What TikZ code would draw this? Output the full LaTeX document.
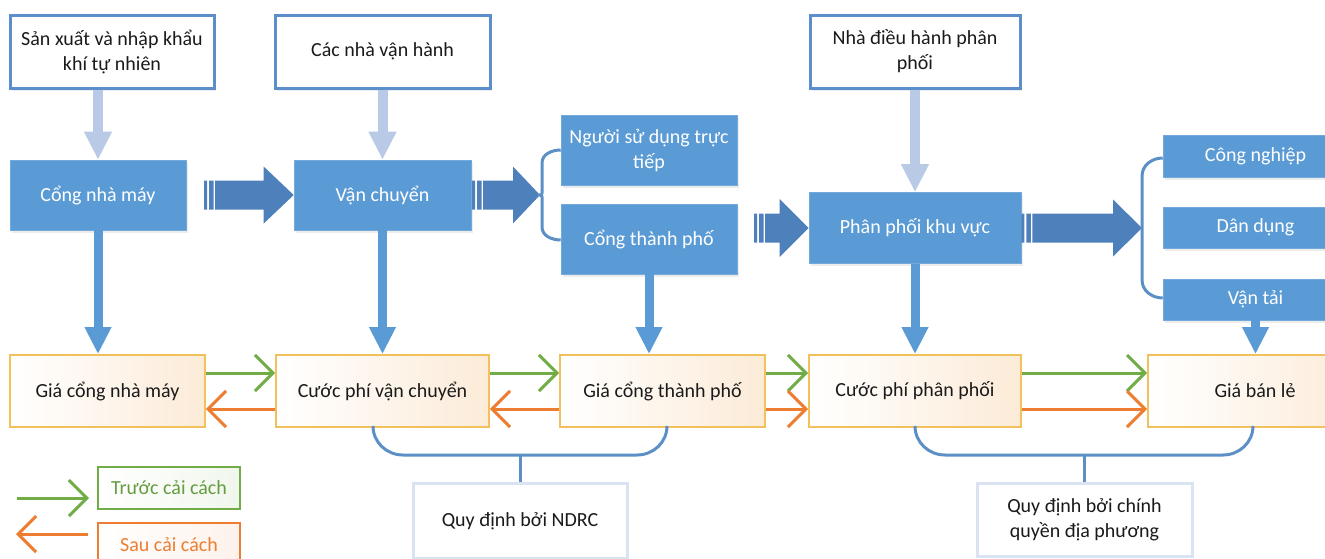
\documentclass[tikz,border=0pt]{standalone}
\usepackage{fontspec}
\setmainfont{Carlito}
\usetikzlibrary{arrows.meta,shadows,calc}
\definecolor{bxblue}{HTML}{5B9BD5}
\definecolor{topblue}{HTML}{5B8FCB}
\definecolor{darkarr}{HTML}{4E80BC}
\definecolor{lightarr}{HTML}{B8CAE5}
\definecolor{grn}{HTML}{70AD47}
\definecolor{org}{HTML}{ED7D31}
\definecolor{gold}{HTML}{F3C15B}
\definecolor{cream}{HTML}{FCEBD8}
\definecolor{regbd}{HTML}{DAE3F1}
\definecolor{brk}{HTML}{5B8FC6}
\definecolor{txt}{HTML}{1A1A1A}
\newcommand\blockarr[5]{% start, tip, shaft half, head half, head length
  \fill[darkarr] let \p1=(#1), \p2=(#2) in
    (\x1,\y2+#3) rectangle (\x1+3pt,\y2-#3)
    (\x1+5pt,\y2+#3) rectangle (\x1+9.5pt,\y2-#3)
    (\x1+11pt,\y2+#3) -- (\x2-#5,\y2+#3) -- (\x2-#5,\y2+#4) -- (\x2,\y2)
    -- (\x2-#5,\y2-#4) -- (\x2-#5,\y2-#3) -- (\x1+11pt,\y2-#3) -- cycle;}
\begin{document}
\begin{tikzpicture}[x=1pt,y=-1pt,
  font=\fontsize{20}{25}\selectfont,
  every node/.style={inner sep=0pt, align=center},
  shad/.style={drop shadow={shadow xshift=1.5pt,shadow yshift=-2.5pt,opacity=.15}},
  topbox/.style={draw=topblue, line width=3pt, fill=white, text=txt, shad},
  bluebox/.style={fill=bxblue, draw=bxblue!85!white, line width=0.6pt, text=white, shad},
  pricebox/.style={draw=gold, line width=1.8pt, shading=axis, shading angle=45,
     left color=white, right color=cream, text=txt},
  regbox/.style={draw=regbd, line width=3pt, fill=white, text=txt},
  legg/.style={draw=grn, line width=1.3pt, left color=white, right color=grn!10, text=grn!90!black},
  lego/.style={draw=org, line width=1.3pt, left color=white, right color=org!10, text=org},
  litearrow/.style={draw=lightarr, line width=10pt, -{Triangle[length=28pt,width=26pt]}},
  downarrow/.style={draw=bxblue, line width=9pt, -{Triangle[length=27pt,width=25pt]}},
  garrow/.style={draw=grn, line width=3pt, -{Straight Barb[length=18pt,width=36pt,line width=3pt]}},
  oarrow/.style={draw=org, line width=3pt, -{Straight Barb[length=18pt,width=36pt,line width=3pt]}},
  bracket/.style={draw=brk, line width=3pt},
]
\useasboundingbox (0,0) rectangle (1325,558);

% top boxes
\node[topbox, minimum width=204pt, minimum height=73pt] (topA) at (112,51.5) {Sản xuất và nhập khẩu\\khí tự nhiên};
\node[topbox, minimum width=215pt, minimum height=73pt] (topB) at (382.5,51.5) {Các nhà vận hành};
\node[topbox, minimum width=210pt, minimum height=73pt] (topC) at (915,51.5) {Nhà điều hành phân\\phối};

% blue boxes
\node[bluebox, minimum width=176pt, minimum height=70pt] (gate) at (98,195) {Cổng nhà máy};
\node[bluebox, minimum width=177pt, minimum height=70pt] (trans) at (382.5,195) {Vận chuyển};
\node[bluebox, minimum width=176pt, minimum height=70pt] (direct) at (649,150) {Người sử dụng trực\\tiếp};
\node[bluebox, minimum width=176pt, minimum height=70pt] (city) at (649,239) {Cổng thành phố};
\node[bluebox, minimum width=212pt, minimum height=71pt] (dist) at (915,228) {Phân phối khu vực};
\node[bluebox, minimum width=185pt, minimum height=42pt] (ind) at (1255.5,156) {Công nghiệp};
\node[bluebox, minimum width=185pt, minimum height=41pt] (res) at (1255.5,227.5) {Dân dụng};
\node[bluebox, minimum width=185pt, minimum height=41pt] (tr) at (1255.5,299.5) {Vận tải};

% price boxes
\node[pricebox, minimum width=195pt, minimum height=72pt] (p1) at (107.5,391) {Giá cổng nhà máy};
\node[pricebox, minimum width=213pt, minimum height=72pt] (p2) at (382.5,391) {Cước phí vận chuyển};
\node[pricebox, minimum width=205pt, minimum height=72pt] (p3) at (662.5,391) {Giá cổng thành phố};
\node[pricebox, minimum width=212pt, minimum height=72pt] (p4) at (915,391) {Cước phí phân phối};
\node[pricebox, minimum width=214pt, minimum height=72pt] (p5) at (1255,391) {Giá bán lẻ};

% regulator boxes
\node[regbox, minimum width=214pt, minimum height=75pt] (ndrc) at (520,521) {Quy định bởi NDRC};
\node[regbox, minimum width=215pt, minimum height=73pt] (local) at (1084.5,520) {Quy định bởi chính\\quyền địa phương};

% legend
\node[legg, minimum width=142pt, minimum height=42pt] (leg1) at (169,488) {Trước cải cách};
\node[lego, minimum width=142pt, minimum height=43pt] (leg2) at (169,544.5) {Sau cải cách};
\coordinate (lg1s) at (17,498);
\coordinate (lg1e) at (89,498);
\coordinate (lg2s) at (88,534);
\coordinate (lg2e) at (16,534);
\draw[garrow] (lg1s) -- (lg1e);
\draw[oarrow] (lg2s) -- (lg2e);

% light arrows
\draw[litearrow] (topA.south -| gate.north) -- (gate.north);
\draw[litearrow] (topB.south) -- (trans.north);
\draw[litearrow] (topC.south) -- (dist.north);

% block arrows
\coordinate (a1s) at (204,195);
\coordinate (a2s) at (472,195);
\coordinate (b1) at (540,195);
\coordinate (a3s) at (754,228);
\coordinate (b2) at (1142,228);
\blockarr{a1s}{trans.west}{14.5pt}{28.5pt}{30pt}
\blockarr{a2s}{b1}{14.5pt}{28.5pt}{27pt}
\blockarr{a3s}{dist.west}{14.5pt}{29pt}{29pt}
\blockarr{dist.east}{b2}{14.5pt}{28.5pt}{29pt}

% braces
\draw[bracket] (direct.west |- 0,150) to[out=180,in=90] (542,163) -- (542,187)
   to[out=-90,in=0] (b1) to[out=0,in=90] (542,203) -- (542,227) to[out=-90,in=180] (city.west |- 0,240);
\draw[bracket] (ind.west |- 0,158) to[out=180,in=90] (b2 |- 0,176) -- (b2) -- (1142,280)
   to[out=-90,in=180] (tr.west |- 0,298);

% down arrows
\draw[downarrow] (gate.south) -- (gate.south |- p1.north);
\draw[downarrow] (trans.south) -- (p2.north);
\draw[downarrow] (city.south) -- (city.south |- p3.north);
\draw[downarrow] (dist.south) -- (p4.north);
\draw[downarrow] (tr.south) -- (tr.south |- p5.north);

% price arrows
\draw[garrow] ([yshift=18pt]p1.east) -- ([yshift=18pt]p2.west);
\draw[oarrow] ([yshift=-18pt]p2.west) -- ([yshift=-18pt]p1.east);
\draw[garrow] ([yshift=18pt]p2.east) -- ([yshift=18pt]p3.west);
\draw[oarrow] ([yshift=-18pt]p3.west) -- ([yshift=-18pt]p2.east);
\draw[garrow] ([yshift=18pt]p3.east) -- ([yshift=18pt]p4.west);
\draw[oarrow] ([yshift=-18pt]p3.east) -- ([yshift=-18pt]p4.west);
\draw[garrow] ([yshift=18pt]p4.east) -- ([yshift=18pt]p5.west);
\draw[oarrow] ([yshift=-18pt]p4.east) -- ([yshift=-18pt]p5.west);

% regulation brackets
\draw[bracket] (373,426) to[out=-90,in=180] (403,455) -- (637,455) to[out=0,in=-90] (667,426);
\draw[bracket] (ndrc.north) -- (ndrc.north |- 0,455);
\draw[bracket] (915,426) to[out=-90,in=180] (945,455) -- (1223,455) to[out=0,in=-90] (1253,426);
\draw[bracket] (local.north) -- (local.north |- 0,455);
\end{tikzpicture}
\end{document}
